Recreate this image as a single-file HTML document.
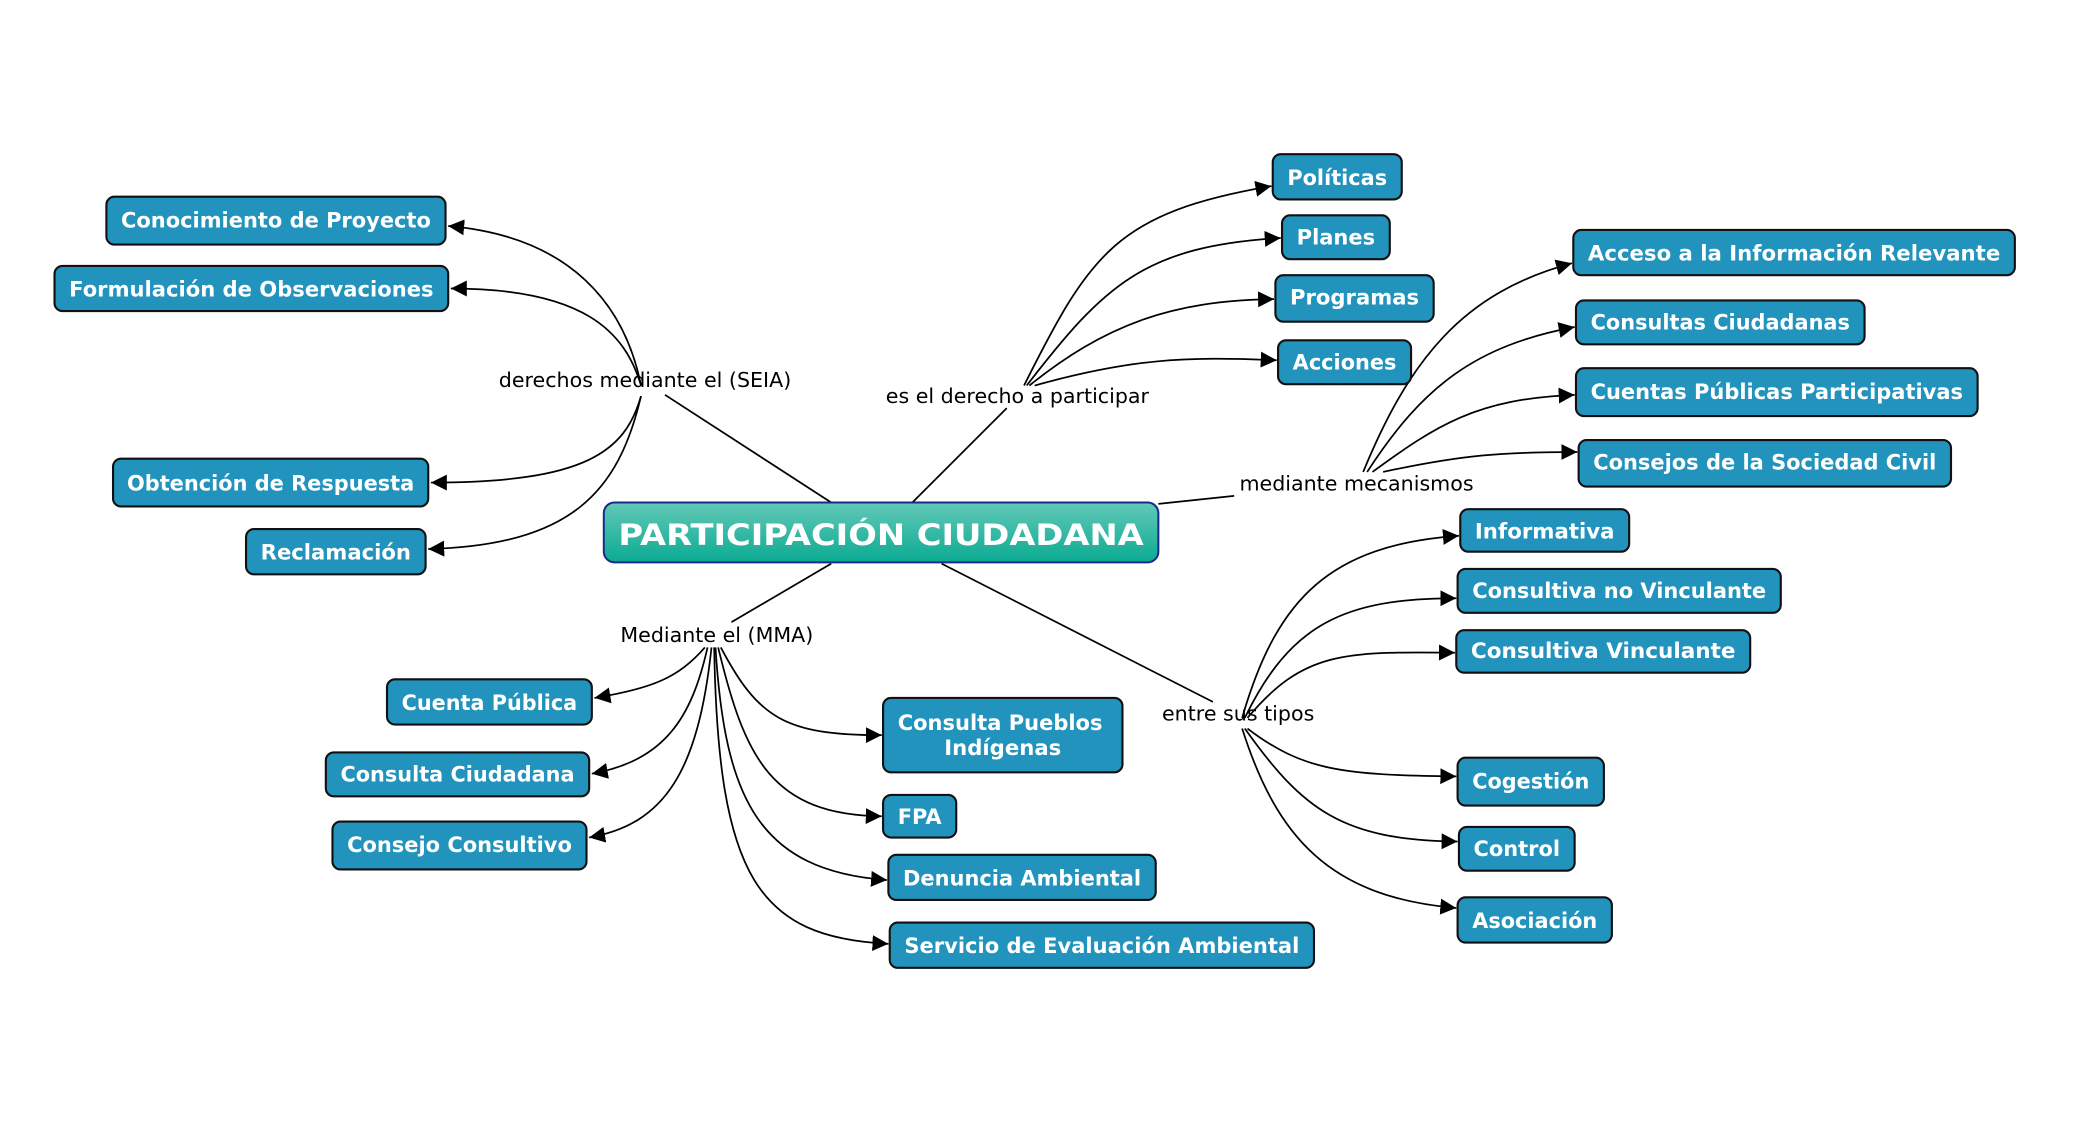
<!DOCTYPE html>
<html><head><meta charset="utf-8"><style>
html,body{margin:0;padding:0;background:#fff;}
svg{display:block;}
.b{fill:#2193bd;stroke:#111;stroke-width:1.6;}
.t{fill:#fff;font-family:"DejaVu Sans","Liberation Sans",sans-serif;font-weight:bold;font-size:16px;}
.l{fill:#000;font-family:"DejaVu Sans","Liberation Sans",sans-serif;font-size:15.5px;}
.c{fill:none;stroke:#000;stroke-width:1.3;}
</style></head><body>
<svg width="2084" height="1122" viewBox="0 0 1567 844" preserveAspectRatio="none" xmlns="http://www.w3.org/2000/svg">
<defs>
<marker id="a" viewBox="0 0 10 10" refX="10" refY="5" markerWidth="12" markerHeight="12" markerUnits="userSpaceOnUse" orient="auto"><path d="M0,0 L10,5 L0,10 z" fill="#000"/></marker>
<linearGradient id="g" x1="0" y1="0" x2="0" y2="1"><stop offset="0" stop-color="#62c9b8"/><stop offset="1" stop-color="#0caa92"/></linearGradient>
</defs>

<path class="c" d="M625,378 L500,297"/>
<path class="c" d="M686,378 L757,307"/>
<path class="c" d="M871,379 L928,373"/>
<path class="c" d="M625,424 L550,468"/>
<path class="c" d="M708,424 L912,528"/>

<g marker-end="url(#a)">
<path class="c" d="M482,290 C470,230 430,178 337,170"/>
<path class="c" d="M482,290 C470,250 440,217 339,217"/>
<path class="c" d="M482,298 C470,340 440,363 324,363"/>
<path class="c" d="M482,298 C465,370 430,410 322,413"/>
<path class="c" d="M770,290 C820,190 840,160 956,140"/>
<path class="c" d="M772,290 C830,215 860,185 963,179"/>
<path class="c" d="M774,290 C830,245 880,226 958,225"/>
<path class="c" d="M778,290 C850,270 890,268 960,271"/>
<path class="c" d="M1025,355 C1060,270 1100,220 1182,198"/>
<path class="c" d="M1028,355 C1070,290 1110,260 1184,246"/>
<path class="c" d="M1032,355 C1080,320 1110,300 1184,297"/>
<path class="c" d="M1040,355 C1100,342 1130,340 1186,340"/>
<path class="c" d="M530,487 C510,510 490,518 447,525"/>
<path class="c" d="M532,487 C520,540 500,572 445,582"/>
<path class="c" d="M535,487 C525,580 500,620 443,630"/>
<path class="c" d="M542,487 C570,540 590,553 663,553"/>
<path class="c" d="M540,487 C560,570 580,613 663,614"/>
<path class="c" d="M538,487 C545,600 570,655 667,662"/>
<path class="c" d="M537,487 C540,660 570,705 668,710"/>
<path class="c" d="M934,540 C960,450 1000,410 1097,403"/>
<path class="c" d="M936,540 C970,470 1010,450 1095,450"/>
<path class="c" d="M938,540 C980,490 1010,490 1094,491"/>
<path class="c" d="M938,548 C980,580 1010,583 1095,584"/>
<path class="c" d="M936,548 C980,610 1010,632 1096,633"/>
<path class="c" d="M934,548 C960,630 1000,675 1095,683"/>
</g>

<g class="l" text-anchor="middle">
<text x="485" y="291">derechos mediante el (SEIA)</text>
<text x="765" y="303">es el derecho a participar</text>
<text x="1020" y="369">mediante mecanismos</text>
<text x="539" y="483">Mediante el (MMA)</text>
<text x="931" y="542">entre sus tipos</text>
</g>

<rect x="454" y="378" width="417" height="45" rx="8" fill="url(#g)" stroke="#1a2a8a" stroke-width="1.5"/>
<text x="662.5" y="410" text-anchor="middle" fill="#fff" font-family="DejaVu Sans,Liberation Sans,sans-serif" font-weight="bold" font-size="22" textLength="395" lengthAdjust="spacingAndGlyphs">PARTICIPACIÓN CIUDADANA</text>

<g>
<rect class="b" x="80" y="148" width="255" height="36" rx="6"/><text class="t" x="207.5" y="171" text-anchor="middle" textLength="233" lengthAdjust="spacingAndGlyphs">Conocimiento de Proyecto</text>
<rect class="b" x="41" y="200" width="296" height="34" rx="6"/><text class="t" x="189" y="223" text-anchor="middle" textLength="274" lengthAdjust="spacingAndGlyphs">Formulación de Observaciones</text>
<rect class="b" x="85" y="345" width="237" height="36" rx="6"/><text class="t" x="203.5" y="369" text-anchor="middle" textLength="216" lengthAdjust="spacingAndGlyphs">Obtención de Respuesta</text>
<rect class="b" x="185" y="398" width="135" height="34" rx="6"/><text class="t" x="252.5" y="421" text-anchor="middle" textLength="113" lengthAdjust="spacingAndGlyphs">Reclamación</text>

<rect class="b" x="957" y="116" width="97" height="34" rx="6"/><text class="t" x="1005.5" y="139" text-anchor="middle" textLength="75" lengthAdjust="spacingAndGlyphs">Políticas</text>
<rect class="b" x="964" y="162" width="81" height="33" rx="6"/><text class="t" x="1004.5" y="184" text-anchor="middle" textLength="59" lengthAdjust="spacingAndGlyphs">Planes</text>
<rect class="b" x="959" y="207" width="119" height="35" rx="6"/><text class="t" x="1018.5" y="229" text-anchor="middle" textLength="97" lengthAdjust="spacingAndGlyphs">Programas</text>
<rect class="b" x="961" y="256" width="100" height="33" rx="6"/><text class="t" x="1011" y="278" text-anchor="middle" textLength="78" lengthAdjust="spacingAndGlyphs">Acciones</text>

<rect class="b" x="1183" y="173" width="332" height="34" rx="6"/><text class="t" x="1349" y="196" text-anchor="middle" textLength="310" lengthAdjust="spacingAndGlyphs">Acceso a la Información Relevante</text>
<rect class="b" x="1185" y="226" width="217" height="33" rx="6"/><text class="t" x="1293.5" y="248" text-anchor="middle" textLength="195" lengthAdjust="spacingAndGlyphs">Consultas Ciudadanas</text>
<rect class="b" x="1185" y="277" width="302" height="36" rx="6"/><text class="t" x="1336" y="300" text-anchor="middle" textLength="280" lengthAdjust="spacingAndGlyphs">Cuentas Públicas Participativas</text>
<rect class="b" x="1187" y="331" width="280" height="35" rx="6"/><text class="t" x="1327" y="353" text-anchor="middle" textLength="258" lengthAdjust="spacingAndGlyphs">Consejos de la Sociedad Civil</text>

<rect class="b" x="1098" y="383" width="127" height="32" rx="6"/><text class="t" x="1161.5" y="405" text-anchor="middle" textLength="105" lengthAdjust="spacingAndGlyphs">Informativa</text>
<rect class="b" x="1096" y="428" width="243" height="33" rx="6"/><text class="t" x="1217.5" y="450" text-anchor="middle" textLength="221" lengthAdjust="spacingAndGlyphs">Consultiva no Vinculante</text>
<rect class="b" x="1095" y="474" width="221" height="32" rx="6"/><text class="t" x="1205.5" y="495" text-anchor="middle" textLength="199" lengthAdjust="spacingAndGlyphs">Consultiva Vinculante</text>
<rect class="b" x="1096" y="570" width="110" height="36" rx="6"/><text class="t" x="1151" y="593" text-anchor="middle" textLength="88" lengthAdjust="spacingAndGlyphs">Cogestión</text>
<rect class="b" x="1097" y="622" width="87" height="33" rx="6"/><text class="t" x="1140.5" y="644" text-anchor="middle" textLength="65" lengthAdjust="spacingAndGlyphs">Control</text>
<rect class="b" x="1096" y="675" width="116" height="34" rx="6"/><text class="t" x="1154" y="698" text-anchor="middle" textLength="94" lengthAdjust="spacingAndGlyphs">Asociación</text>

<rect class="b" x="291" y="511" width="154" height="34" rx="6"/><text class="t" x="368" y="534" text-anchor="middle" textLength="132" lengthAdjust="spacingAndGlyphs">Cuenta Pública</text>
<rect class="b" x="245" y="566" width="198" height="33" rx="6"/><text class="t" x="344" y="588" text-anchor="middle" textLength="176" lengthAdjust="spacingAndGlyphs">Consulta Ciudadana</text>
<rect class="b" x="250" y="618" width="191" height="36" rx="6"/><text class="t" x="345.5" y="641" text-anchor="middle" textLength="169" lengthAdjust="spacingAndGlyphs">Consejo Consultivo</text>

<rect class="b" x="664" y="525" width="180" height="56" rx="6"/>
<text class="t" x="752" y="549" text-anchor="middle" textLength="154" lengthAdjust="spacingAndGlyphs">Consulta Pueblos</text>
<text class="t" x="754" y="568" text-anchor="middle" textLength="88" lengthAdjust="spacingAndGlyphs">Indígenas</text>
<rect class="b" x="664" y="598" width="55" height="32" rx="6"/><text class="t" x="691.5" y="620" text-anchor="middle" textLength="33" lengthAdjust="spacingAndGlyphs">FPA</text>
<rect class="b" x="668" y="643" width="201" height="34" rx="6"/><text class="t" x="768.5" y="666" text-anchor="middle" textLength="179" lengthAdjust="spacingAndGlyphs">Denuncia Ambiental</text>
<rect class="b" x="669" y="694" width="319" height="34" rx="6"/><text class="t" x="828.5" y="717" text-anchor="middle" textLength="297" lengthAdjust="spacingAndGlyphs">Servicio de Evaluación Ambiental</text>
</g>
</svg>
</body></html>
